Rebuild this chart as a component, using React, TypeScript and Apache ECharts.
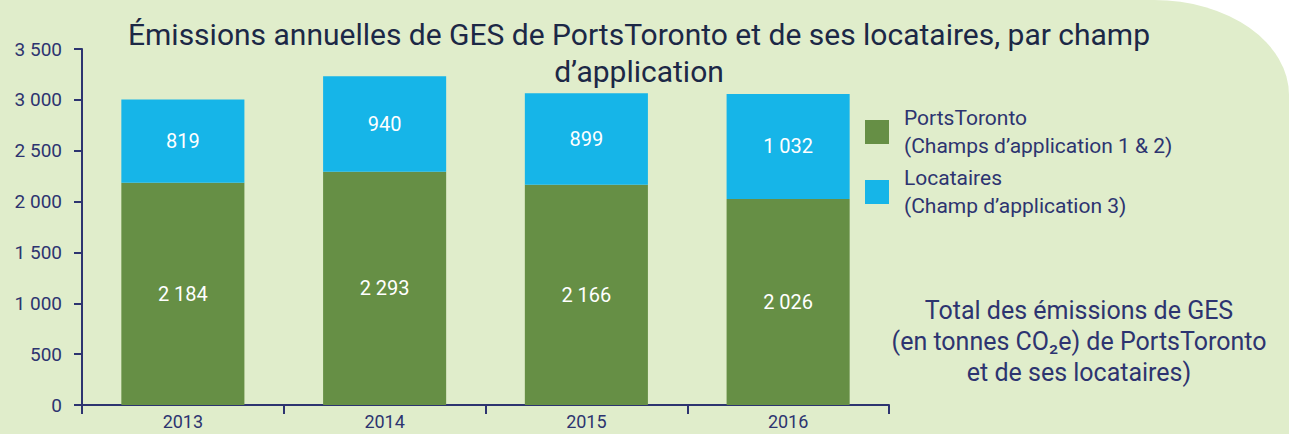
import React, { useEffect, useRef } from "react";
import * as echarts from "echarts";

const years = ["2013", "2014", "2015", "2016"];
const portsToronto = [2184, 2293, 2166, 2026];
const locataires = [819, 940, 899, 1032];
const yTicks = [0, 500, 1000, 1500, 2000, 2500, 3000, 3500];
const seriesNames = ["PortsToronto", "Locataires"];
const legendSub: Record<string, string> = {
  PortsToronto: "(Champs d’application 1 & 2)",
  Locataires: "(Champ d’application 3)",
};
const titleText = "Émissions annuelles de GES de PortsToronto et de ses locataires, par champ\nd’application";
const noteText = "Total des émissions de GES\n(en tonnes CO₂e) de PortsToronto\net de ses locataires)";

const navy = "#2D3470";
const green = "#668F45";
const blue = "#16B5E8";
const bg = "#E0EDCB";
const font = "Roboto";

const fmt = (v: number) => {
  const s = String(Math.round(v));
  return s.replace(/\B(?=(\d{3})+(?!\d))/g, " ");
};

export default function App() {
  const ref = useRef<HTMLDivElement>(null);
  useEffect(() => {
    if (!ref.current) return;
    const chart = echarts.init(ref.current, null, { renderer: "svg" });
    const labelCfg = {
      show: true,
      position: "inside" as const,
      color: "#ffffff",
      fontSize: 20,
      fontFamily: font,
      formatter: (p: any) => fmt(p.value),
    };
    chart.setOption({
      animation: false,
      backgroundColor: "transparent",
      textStyle: { fontFamily: font },
      title: {
        text: titleText,
        left: 634,
        top: 11,
        textAlign: "center",
        textStyle: {
          fontSize: 30,
          fontWeight: "normal",
          color: "#1C2846",
          lineHeight: 37,
          fontFamily: font,
        },
      },
      legend: {
        orient: "vertical",
        left: 860,
        top: 99,
        itemWidth: 24,
        itemHeight: 24,
        itemGap: 4,
        icon: "rect",
        data: seriesNames,
        formatter: (name: string) => name + "\n" + legendSub[name],
        textStyle: {
          fontSize: 21,
          lineHeight: 28,
          color: navy,
          fontFamily: font,
          padding: [0, 0, 0, 10],
        },
      },
      grid: { left: 82, right: 400, top: 49, bottom: 29, containLabel: false },
      xAxis: {
        type: "category",
        data: years,
        axisLine: { show: true, lineStyle: { color: navy, width: 2 } },
        axisTick: { show: true, length: 9, lineStyle: { color: navy, width: 2 } },
        axisLabel: { color: navy, fontSize: 18, margin: 7, fontFamily: font },
      },
      yAxis: {
        type: "value",
        min: yTicks[0],
        max: yTicks[yTicks.length - 1],
        interval: 500,
        splitLine: { show: false },
        axisLine: { show: true, lineStyle: { color: navy, width: 2 } },
        axisTick: { show: true, length: 8, lineStyle: { color: navy, width: 2 } },
        axisLabel: {
          color: navy,
          fontSize: 19,
          margin: 20,
          fontFamily: font,
          formatter: (v: number) => fmt(v),
        },
      },
      series: [
        {
          name: seriesNames[0],
          type: "bar",
          stack: "total",
          barWidth: "61%",
          data: portsToronto,
          itemStyle: { color: green },
          label: labelCfg,
        },
        {
          name: seriesNames[1],
          type: "bar",
          stack: "total",
          barWidth: "61%",
          data: locataires,
          itemStyle: { color: blue },
          label: labelCfg,
        },
      ],
      graphic: [
        {
          type: "text",
          x: 1079,
          y: 295,
          style: {
            text: noteText,
            textAlign: "center",
            align: "center",
            fontSize: 25,
            lineHeight: 31,
            fill: navy,
            fontFamily: font,
          },
        },
      ],
    });
    return () => chart.dispose();
  }, []);
  return (
    <div style={{ position: "fixed", left: 0, top: 0, width: 1289, height: 434, background: "#ffffff" }}>
      <div
        style={{
          width: 1289,
          height: 434,
          background: bg,
          borderTopRightRadius: "135px 95px",
        }}
      >
        <div ref={ref} style={{ width: 1289, height: 434 }} />
      </div>
    </div>
  );
}
